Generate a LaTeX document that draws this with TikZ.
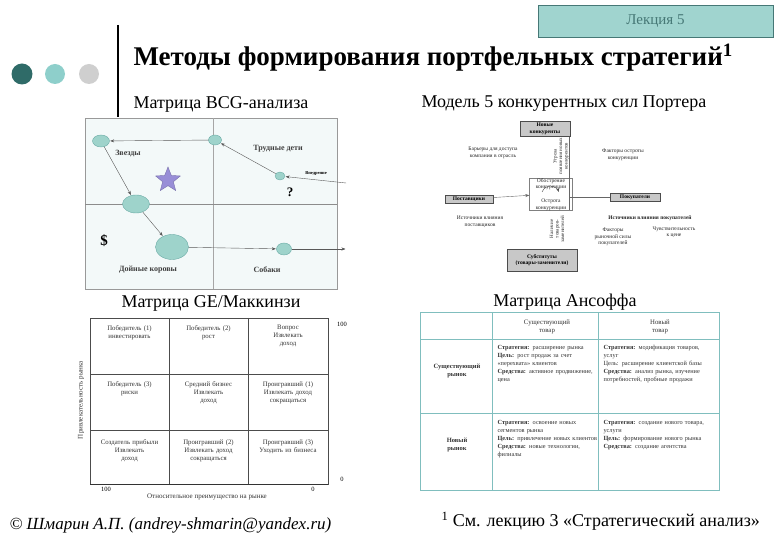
\documentclass[tikz,border=0pt]{standalone}
\usepackage{fontspec}
\setmainfont{Liberation Serif}
\usetikzlibrary{shapes.geometric,positioning,arrows.meta}
\definecolor{lectfill}{RGB}{160,212,207}
\definecolor{lectline}{RGB}{70,120,118}
\definecolor{dotdark}{RGB}{47,107,104}
\definecolor{dotlight}{RGB}{142,207,203}
\definecolor{dotgrey}{RGB}{207,207,207}
\definecolor{bcgback}{RGB}{243,249,249}
\definecolor{bcgcell}{RGB}{158,211,203}
\definecolor{bcgedge}{RGB}{106,171,165}
\definecolor{starfill}{RGB}{152,142,215}
\definecolor{porterbox}{RGB}{200,200,200}
\definecolor{ansline}{RGB}{128,190,190}
\begin{document}
\begin{tikzpicture}[x=1pt,y=-1pt,>={Stealth[length=4pt,width=3pt]},
    cell/.style={ellipse,draw=bcgedge,fill=bcgcell,inner sep=0pt},
    flow/.style={->,draw=black!65,shorten >=0.5pt},
    bcglabel/.style={font=\fontsize{8}{9}\selectfont\bfseries,text=black!75},
    forcebox/.style={draw=black!70,fill=porterbox,inner sep=1.5pt,font=\fontsize{5.5}{6.5}\selectfont\bfseries},
    tiny/.style={font=\fontsize{5.5}{6.5}\selectfont,align=center,text=black!85},
    gecell/.style={anchor=north,align=center,text width=74,font=\fontsize{6.8}{8}\selectfont,text=black!80},
    anscell/.style={anchor=north west,align=left,text width=100,font=\fontsize{6.3}{8}\selectfont,text=black!80},
    subtitle/.style={font=\fontsize{18}{20}\selectfont}]
\useasboundingbox (0,0) rectangle (780,540);

% header
\node[draw=lectline,fill=lectfill,minimum width=235,minimum height=32,inner sep=0pt,
  font=\fontsize{15}{17}\selectfont,text=lectline] (lect) at (655.5,21) {Лекция 5};
\draw[line width=2.5pt] (118,25) coordinate (bartop) -- (118,117) coordinate (barbot);
\fill[dotdark] (22,74) circle (10.5);
\fill[dotlight] (55,74) circle (10);
\fill[dotgrey] (89,74) circle (10);
\node[anchor=west,font=\fontsize{27}{30}\selectfont\bfseries] (title) at (130,58)
  {Методы формирования портфельных стратегий\textsuperscript{1}};
\node[subtitle,anchor=west] (bcgt) at (130,104) {Матрица BCG-анализа};
\node[subtitle,anchor=west] (portt) at (418,104) {Модель 5 конкурентных сил Портера};
\node[subtitle] (get) at (211,303) {Матрица GE/Маккинзи};
\node[subtitle] (anst) at (565,302) {Матрица Ансоффа};

% BCG
\draw[black!40,fill=bcgback] (85,118) rectangle (337,289);
\draw[black!35] (213,118) -- (213,289);
\draw[black!45] (85,204) -- (337,204);
\node[cell,minimum width=17,minimum height=12] (star) at (101,141) {};
\node[cell,minimum width=13,minimum height=10] (quest) at (215,140) {};
\node[cell,minimum width=10,minimum height=8] (intro) at (280,176) {};
\node[cell,minimum width=27,minimum height=18] (peak) at (136,204) {};
\node[cell,minimum width=33,minimum height=25] (cow) at (172,247) {};
\node[cell,minimum width=15,minimum height=12] (dog) at (284,249) {};
\coordinate (entry) at (346,183);
\coordinate (exit) at (346,249);
\draw[flow] (entry) -- (intro);
\draw[flow] (intro) -- (quest);
\draw[flow] (quest) -- (star);
\draw[flow] (star) -- (peak);
\draw[flow] (peak) -- (cow);
\draw[flow] (cow) -- (dog);
\draw[flow] (dog) -- (exit);
\node[star,star points=5,star point ratio=2.3,draw=starfill!80!black,fill=starfill,
  minimum size=26,inner sep=0pt] (starsign) at (168,180) {};
\node[bcglabel] (starlbl) at (128,154) {Звезды};
\node[bcglabel] (qlbl) at (278,149) {Трудные дети};
\node[font=\fontsize{4.5}{5}\selectfont\bfseries] (introlbl) at (316,174) {Внедрение};
\node[font=\fontsize{13}{14}\selectfont\bfseries] (qmark) at (290,192) {?};
\node[font=\fontsize{15}{16}\selectfont\bfseries] (dollar) at (104,241) {\$};
\node[bcglabel] (cowlbl) at (148,270) {Дойные коровы};
\node[bcglabel] (doglbl) at (267,270) {Собаки};

% Porter
\node[forcebox,minimum width=50,minimum height=15,align=center] (newc) at (545,129)
  {Новые\\конкуренты};
\node[forcebox,minimum width=48,minimum height=8] (supp) at (469,199) {Поставщики};
\node[forcebox,minimum width=50,minimum height=8] (buy) at (635,197) {Покупатели};
\node[forcebox,minimum width=70,minimum height=22,align=center] (subst) at (542,260)
  {Субституты\\(товары-заменители)};
\node[tiny,draw=black!50,minimum width=43,minimum height=32] (core) at (551,194) {};
\node[tiny] (sharp1) at (551,184) {Обострение\\конкуренции};
\node[tiny] (sharp2) at (551,205) {Острота\\конкуренции};
\draw[->,black!70] (542,192) arc (200:340:9);
\draw[black!60] (newc.south east) ++(-1,0) coordinate (vtop) -- (vtop |- core.south);
\draw[->,black!60] (supp) -- (core);
\draw[black!60] (buy) -- (vtop |- buy);
\node[tiny,rotate=90,font=\fontsize{5}{5.5}\selectfont] (threat) at (561,156) {Угроза\\появления новых\\конкурентов};
\node[tiny,rotate=90,font=\fontsize{5}{5.5}\selectfont] (replace) at (557,229) {Наличие\\товаров-\\заменителей};
\node[tiny] (barrier) at (493,153) {Барьеры для доступа\\компании в отрасль};
\node[tiny] (rival) at (623,155) {Факторы остроты\\конкуренции};
\node[tiny] (suppsrc) at (480,222) {Источники влияния\\поставщиков};
\node[tiny,font=\fontsize{5.5}{6.5}\selectfont\bfseries] (buysrc) at (650,218) {Источники влияния покупателей};
\node[tiny] (buypow) at (613,237) {Факторы\\рыночной силы\\покупателей};
\node[tiny] (price) at (674,232) {Чувствительность\\к цене};

% GE / McKinsey
\draw[black!70] (90,318) rectangle (328,484);
\draw[black!70] (169,318) -- (169,484);
\draw[black!70] (248,318) -- (248,484);
\draw[black!70] (90,374) -- (328,374);
\draw[black!70] (90,430) -- (328,430);
\draw[black!80,line width=1pt] (90,484) -- (328,484);
\node[gecell] (g11) at (129.5,322) {Победитель (1)\\инвестировать};
\node[gecell] (g12) at (208.5,322) {Победитель (2)\\рост};
\node[gecell] (g13) at (288,322) {Вопрос\\Извлекать\\доход};
\node[gecell] (g21) at (129.5,378) {Победитель (3)\\риски};
\node[gecell] (g22) at (208.5,378) {Средний бизнес\\Извлекать\\доход};
\node[gecell] (g23) at (288,378) {Проигравший (1)\\Извлекать доход\\сокращаться};
\node[gecell] (g31) at (129.5,436) {Создатель прибыли\\Извлекать\\доход};
\node[gecell] (g32) at (208.5,436) {Проигравший (2)\\Извлекать доход\\сокращаться};
\node[gecell] (g33) at (288,436) {Проигравший (3)\\Уходить из бизнеса};
\node[font=\fontsize{6.5}{7}\selectfont] (ytop) at (342,324) {100};
\node[font=\fontsize{6.5}{7}\selectfont] (ybot) at (342,479) {0};
\node[font=\fontsize{6.5}{7}\selectfont] (xleft) at (106,489) {100};
\node[font=\fontsize{6.5}{7}\selectfont] (xright) at (313,489) {0};
\node[font=\fontsize{7}{8}\selectfont,text=black!80] (xaxis) at (207,497) {Относительное преимущество на рынке};
\node[font=\fontsize{7}{8}\selectfont,text=black!80,rotate=90] (yaxis) at (81,400) {Привлекательность рынка};

% Ansoff
\draw[ansline,line width=1pt] (420,313) rectangle (719,490);
\draw[ansline] (492,313) -- (492,490);
\draw[ansline] (598,313) -- (598,490);
\draw[ansline] (420,339) -- (719,339);
\draw[ansline,line width=1pt] (420,413) -- (719,413);
\node[gecell,text width=90] (hcur) at (547,316) {Существующий\\товар};
\node[gecell,text width=90] (hnew) at (660,316) {Новый\\товар};
\node[gecell,anchor=center,font=\fontsize{6.5}{7.5}\selectfont\bfseries] (rcur) at (457,371) {Существующий\\рынок};
\node[gecell,anchor=center,font=\fontsize{6.5}{7.5}\selectfont\bfseries] (rnew) at (457,445) {Новый\\рынок};
\node[anscell] (a11) at (494,342) {\textbf{Стратегия:} расширение рынка\\\textbf{Цель:} рост продаж за счет «перехвата» клиентов\\\textbf{Средства:} активное продвижение, цена};
\node[anscell,text width=110] (a12) at (600,342) {\textbf{Стратегия:} модификация товаров, услуг\\Цель: расширение клиентской базы\\\textbf{Средства:} анализ рынка, изучение потребностей, пробные продажи};
\node[anscell] (a21) at (494,417) {\textbf{Стратегия:} освоение новых сегментов рынка\\\textbf{Цель:} привлечение новых клиентов\\\textbf{Средства:} новые технологии, филиалы};
\node[anscell,text width=110] (a22) at (600,417) {\textbf{Стратегия:} создание нового товара, услуги\\\textbf{Цель:} формирование нового рынка\\\textbf{Средства:} создание агентства};

% footer
\node[anchor=west,font=\fontsize{17}{19}\selectfont\itshape] (author) at (6,525)
  {© Шмарин А.П. (andrey-shmarin@yandex.ru)};
\node[anchor=west,font=\fontsize{18}{20}\selectfont] (note) at (438,521)
  {\textsuperscript{1} См. лекцию 3 «Стратегический анализ»};
\end{tikzpicture}
\end{document}
